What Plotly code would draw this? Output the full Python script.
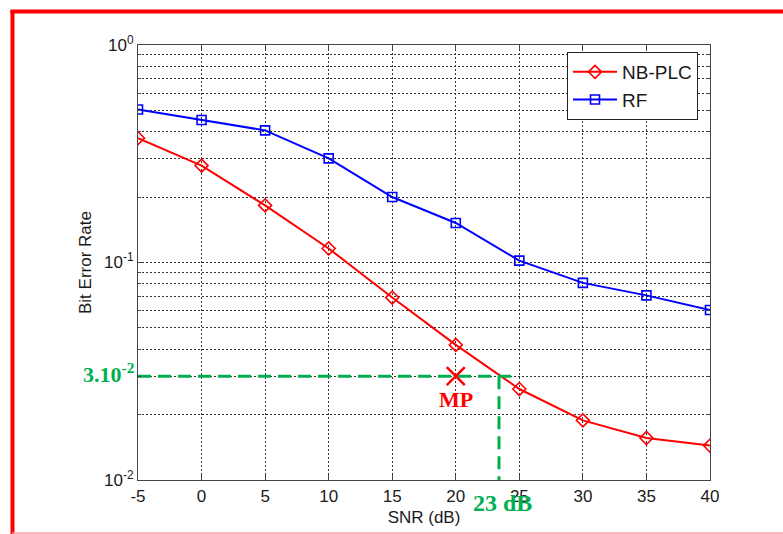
import math
import plotly.graph_objects as go

# ---- data ----
snr_db = [-5, 0, 5, 10, 15, 20, 25, 30, 35, 40]
ber_nbplc = [0.373, 0.279, 0.183, 0.116, 0.069, 0.0418, 0.0262, 0.0188, 0.0156, 0.0144]
ber_rf = [0.505, 0.452, 0.405, 0.301, 0.200, 0.152, 0.102, 0.0806, 0.0706, 0.0605]
mp_snr = [20]
mp_ber = [0.03]
target_ber = 0.03
target_snr = 23.4
hline_x = [-5, 24.4]
x_ticks = [-5, 0, 5, 10, 15, 20, 25, 30, 35, 40]
y_major = [0.01, 0.1, 1]
y_major_text = ["10<sup>-2</sup>", "10<sup>-1</sup>", "10<sup>0</sup>"]
y_minor = [m * d for d in (0.01, 0.1) for m in range(2, 10)]

W, H = 783, 534
L, R, T, B = 138, 73, 45, 54
pw, ph = W - L - R, H - T - B


def px_x(x):
    return (x - L) / pw


def px_y(y):
    return (H - B - y) / ph


fig = go.Figure()

fig.add_trace(go.Scatter(
    x=snr_db, y=ber_nbplc, name="NB-PLC", mode="lines+markers",
    line=dict(color="#ff0000", width=2),
    marker=dict(symbol="diamond-open", size=10, color="#ff0000", line=dict(width=1.6, color="#ff0000")),
))
fig.add_trace(go.Scatter(
    x=snr_db, y=ber_rf, name="RF", mode="lines+markers",
    line=dict(color="#0000ff", width=2),
    marker=dict(symbol="square-open", size=9, color="#0000ff", line=dict(width=1.6, color="#0000ff")),
))
green = "#00b050"
fig.add_trace(go.Scatter(
    x=hline_x, y=[target_ber, target_ber], mode="lines", showlegend=False,
    line=dict(color=green, width=3, dash="13px,7px"), hoverinfo="skip",
))
fig.add_trace(go.Scatter(
    x=[target_snr, target_snr], y=[target_ber, 0.01], mode="lines", showlegend=False,
    line=dict(color=green, width=3, dash="13px,7px"), hoverinfo="skip",
))
fig.add_trace(go.Scatter(
    x=mp_snr, y=mp_ber, mode="markers", showlegend=False,
    marker=dict(symbol="x-thin", size=18, line=dict(color="#ff0000", width=2.5)),
))

axis_common = dict(
    showline=True, linecolor="#444444", linewidth=1.2, mirror="ticks",
    ticks="inside", ticklen=5, tickcolor="#444444",
    showgrid=True, gridcolor="#333333", gridwidth=1, griddash="2px,2px",
    zeroline=False,
    tickfont=dict(family="Liberation Sans, Arial", size=17, color="#1a1a1a"),
)

fig.update_xaxes(
    range=[-5, 40], tickvals=x_ticks, ticktext=[str(v) for v in x_ticks],
    title=dict(text="SNR (dB)", font=dict(family="Liberation Sans, Arial", size=17, color="#1a1a1a"), standoff=6),
    **axis_common,
)
fig.update_yaxes(
    type="log", range=[-2, 0], tickvals=y_major, ticktext=y_major_text,
    title=dict(text="Bit Error Rate", font=dict(family="Liberation Sans, Arial", size=17, color="#1a1a1a"), standoff=8),
    minor=dict(tickvals=y_minor, ticks="inside", ticklen=3, tickcolor="#444444",
               showgrid=True, gridcolor="#333333", gridwidth=1, griddash="2px,2px"),
    **axis_common,
)

annotations = [
    dict(text="3.10<sup>-2</sup>", x=-5, y=math.log10(target_ber), xref="x", yref="y",
         xanchor="right", yanchor="middle", xshift=-1, yshift=3, showarrow=False,
         font=dict(family="Liberation Serif, Times New Roman", size=22, color=green, weight="bold")),
    dict(text="MP", x=mp_snr[0], y=math.log10(mp_ber[0]), xref="x", yref="y",
         xanchor="center", yanchor="top", yshift=-9, showarrow=False,
         font=dict(family="Liberation Serif, Times New Roman", size=22, color="#ff0000", weight="bold")),
    dict(text="23 dB", x=target_snr, y=0, xref="x", yref="paper",
         xanchor="center", yanchor="middle", xshift=3, yshift=-23, showarrow=False,
         font=dict(family="Liberation Serif, Times New Roman", size=24, color=green, weight="bold")),
]

shapes = [
    dict(type="line", xref="paper", yref="paper", x0=px_x(12.5), x1=px_x(12.5), y0=px_y(10), y1=px_y(534),
         line=dict(color="#ff0000", width=4)),
    dict(type="line", xref="paper", yref="paper", x0=px_x(10.5), x1=px_x(790), y0=px_y(11.5), y1=px_y(11.5),
         line=dict(color="#ff0000", width=4)),
    dict(type="line", xref="paper", yref="paper", x0=px_x(12), x1=px_x(790), y0=px_y(533), y1=px_y(533),
         line=dict(color="#f4a0a0", width=1.5)),
]

fig.update_layout(
    width=W, height=H,
    margin=dict(l=L, r=R, t=T, b=B, autoexpand=False),
    paper_bgcolor="#ffffff", plot_bgcolor="#ffffff",
    showlegend=True,
    legend=dict(x=px_x(567), y=px_y(52), xanchor="left", yanchor="top",
                bgcolor="#ffffff", bordercolor="#222222", borderwidth=1,
                font=dict(family="Liberation Sans, Arial", size=19, color="#1a1a1a"),
                tracegroupgap=0, itemwidth=44),
    annotations=annotations,
    shapes=shapes,
)

fig.write_html("out.html")
